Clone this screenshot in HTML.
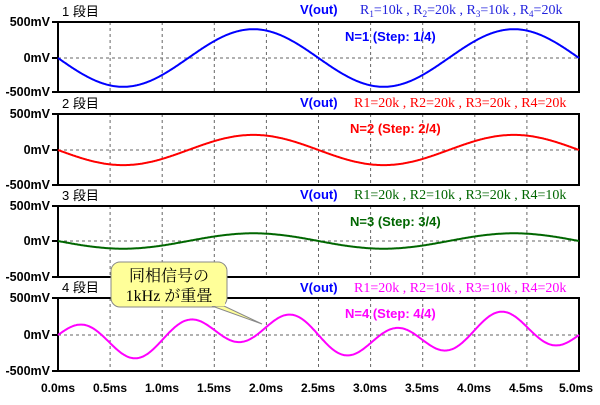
<!DOCTYPE html>
<html><head><meta charset="utf-8"><style>
body{margin:0;background:#fff;width:600px;height:400px;overflow:hidden}
svg text{font-family:"Liberation Sans","Noto Sans CJK JP",sans-serif}
</style></head><body>
<svg id="s" width="600" height="400" xmlns="http://www.w3.org/2000/svg">
<rect width="600" height="400" fill="#fff"/>
<g id="g"></g>
<g font-size="12" font-weight="bold" fill="#000" text-anchor="middle">
<text x="58" y="392">0.0ms</text><text x="110" y="392">0.5ms</text><text x="162" y="392">1.0ms</text><text x="214" y="392">1.5ms</text><text x="266" y="392">2.0ms</text><text x="318" y="392">2.5ms</text><text x="370" y="392">3.0ms</text><text x="422" y="392">3.5ms</text><text x="474" y="392">4.0ms</text><text x="526" y="392">4.5ms</text><text x="576" y="392">5.0ms</text>
</g>
<g font-size="13" font-weight="bold">
<text x="300" y="14" fill="#0000ff">V(out)</text>
<text x="300" y="107" fill="#0000ff">V(out)</text>
<text x="300" y="199" fill="#0000ff">V(out)</text>
<text x="300" y="292" fill="#0000ff">V(out)</text>
<text x="345" y="41" fill="#0000ff">N=1  (Step: 1/4)</text>
<text x="350" y="133" fill="#ff0000">N=2  (Step: 2/4)</text>
<text x="350" y="226" fill="#006600">N=3  (Step: 3/4)</text>
<text x="345" y="318" fill="#ff00ff">N=4  (Step: 4/4)</text>
</g>
<g font-size="14">
<text x="360" y="14" fill="#2222dd" style="font-family:'Liberation Serif',serif">R<tspan font-size="9" dy="3">1</tspan><tspan dy="-3">=10k , R</tspan><tspan font-size="9" dy="3">2</tspan><tspan dy="-3">=20k , R</tspan><tspan font-size="9" dy="3">3</tspan><tspan dy="-3">=10k , R</tspan><tspan font-size="9" dy="3">4</tspan><tspan dy="-3">=20k</tspan></text>
<text x="354" y="107" fill="#ff0000" style="font-family:'Liberation Serif',serif">R1=20k , R2=20k , R3=20k , R4=20k</text>
<text x="354" y="199" fill="#006600" style="font-family:'Liberation Serif',serif">R1=20k , R2=10k , R3=20k , R4=10k</text>
<text x="354" y="292" fill="#ff00ff" style="font-family:'Liberation Serif',serif">R1=20k , R2=10k , R3=10k , R4=20k</text>
</g>
<rect x="111" y="262" width="116" height="45" rx="9" fill="#ffff99" stroke="#888"/>
<path d="M212,306 L262,324 L224,306 Z" fill="#ffff99" stroke="#888"/>
<rect x="211" y="302" width="14" height="4" fill="#ffff99"/>
<text x="169" y="281" font-size="16" text-anchor="middle" style="font-family:'Liberation Serif','Noto Serif CJK SC',serif">同相信号の</text>
<text x="169" y="301" font-size="16" text-anchor="middle" style="font-family:'Liberation Serif','Noto Serif CJK SC',serif">1kHz が重畳</text>
</svg>
<script>
var g=document.getElementById('g'),h='';
var X0=58,X1=579,tops=[22,114,206,298],zs=[58,150,241,335],bots=[92,185,277,371];
var cols=['#0000ff','#ff0000','#006600','#ff00ff'];
var amps=[[400,0],[210,0],[110,0],[115,205]];
for(var p=0;p<4;p++){
 var t=tops[p],b=bots[p],z=zs[p];
 for(var i=1;i<10;i++){var x=X0+i*(X1-X0)/10;h+='<line x1="'+x+'" y1="'+t+'" x2="'+x+'" y2="'+b+'" stroke="#666" stroke-dasharray="3,3"/>';}
 h+='<line x1="'+X0+'" y1="'+z+'" x2="'+X1+'" y2="'+z+'" stroke="#666" stroke-dasharray="3,3"/>';
 h+='<rect x="'+X0+'" y="'+t+'" width="'+(X1-X0)+'" height="'+(b-t)+'" fill="none" stroke="#000" stroke-width="2"/>';
 [[t,'500mV'],[z,'0mV'],[b,'-500mV']].forEach(function(a){h+='<line x1="52" y1="'+a[0]+'" x2="58" y2="'+a[0]+'" stroke="#000" stroke-width="2"/><text x="50" y="'+(a[0]+4)+'" font-size="12.5" font-weight="bold" text-anchor="end">'+a[1]+'</text>';});
 h+='<text x="62" y="'+(t-6)+'" font-size="13">'+(p+1)+' 段目</text>';
 var sc=(z-t)/500,d='';
 for(var k=0;k<=520;k++){var tm=k/520*5e-3;var v=-amps[p][0]*Math.sin(2*Math.PI*400*tm)+amps[p][1]*Math.sin(2*Math.PI*1000*tm);d+=(k?'L':'M')+(X0+k*(X1-X0)/520).toFixed(1)+','+(z-v*sc).toFixed(1);}
 h+='<path d="'+d+'" fill="none" stroke="'+cols[p]+'" stroke-width="2"/>';
}
g.innerHTML=h;
</script>
</body></html>
